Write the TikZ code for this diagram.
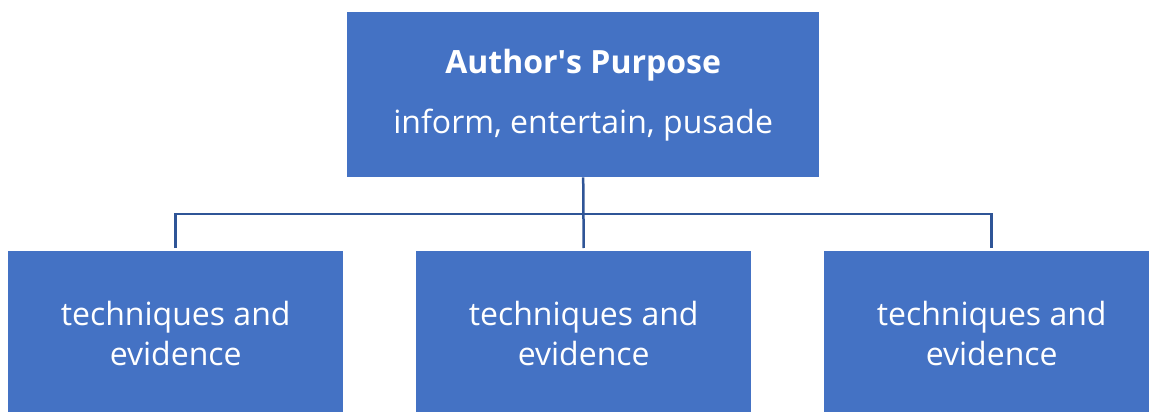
\documentclass[tikz,border=0pt]{standalone}
\usepackage{fontspec}
\setmainfont{Open Sans}
\definecolor{boxblue}{HTML}{4472C4}
\definecolor{lineblue}{HTML}{2F5597}
\begin{document}
\begin{tikzpicture}[x=1pt,y=-1pt,
  box/.style={fill=boxblue,text=white,anchor=north west,inner sep=0pt,
    minimum width=335pt,minimum height=165pt,align=center,
    font=\fontsize{32}{40}\selectfont},
  link/.style={draw=lineblue,line width=2.5pt}]
\useasboundingbox (0,0) rectangle (1149,412);
% Purpose box on top
\node[box,minimum width=472pt] (purpose) at (347,12)
  {\textbf{Author\textquotesingle s Purpose}\\[20pt]inform, entertain, pusade};
% Three boxes below
\node[box] (left) at (8,251) {techniques and\\evidence};
\node[box] (mid) at (416,251) {techniques and\\evidence};
\node[box] (right) at (824,251) {techniques and\\evidence};
% Connectors
\coordinate (bar) at (583,214);
\draw[link] (purpose.south) -- ([yshift=3pt]mid.north);
\draw[link] ([yshift=3pt]left.north) |- (bar) -| ([yshift=3pt]right.north);
\end{tikzpicture}
\end{document}
